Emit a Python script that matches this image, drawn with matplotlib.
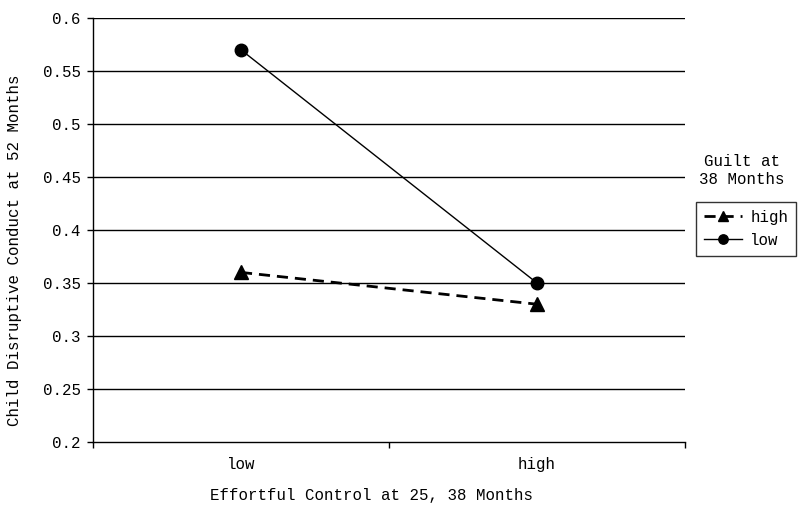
import matplotlib
matplotlib.use('Agg')
from matplotlib import pyplot as plt
from matplotlib.ticker import FixedLocator, NullFormatter

plt.rcParams['font.family'] = ['Liberation Mono', 'DejaVu Sans Mono']

# data
categories = ['low', 'high']
guilt_high = [0.36, 0.33]
guilt_low = [0.57, 0.35]
yticks = [0.2, 0.25, 0.3, 0.35, 0.4, 0.45, 0.5, 0.55, 0.6]
ytick_labels = ['0.2', '0.25', '0.3', '0.35', '0.4', '0.45', '0.5', '0.55', '0.6']

fs = 11.3

fig = plt.figure(figsize=(8, 5.09), dpi=100)
ax = fig.add_axes([0.11625, 0.1316, 0.74, 0.833])

xpos = [i + 0.5 for i in range(len(categories))]

ax.set_ylim(0.2, 0.6)
ax.set_xlim(0, len(categories))
ax.set_yticks(yticks)
ax.set_yticklabels(ytick_labels, fontsize=fs)
for y in yticks[1:]:
    ax.axhline(y, color='black', lw=1, zorder=1)

# x ticks at band edges, labels at centers
ax.xaxis.set_major_locator(FixedLocator([0, 1, 2]))
ax.xaxis.set_major_formatter(NullFormatter())
ax.tick_params(axis='x', length=4, direction='out', width=1)
ax.tick_params(axis='y', length=4, direction='out', width=1, pad=5)
for x, c in zip(xpos, categories):
    ax.text(x, -0.053, c, transform=ax.get_xaxis_transform(), ha='center', va='center', fontsize=fs)

h1, = ax.plot(xpos, guilt_high, color='black', lw=2, ls=(0, (4, 2.5)), marker='^', ms=10, zorder=3)
h2, = ax.plot(xpos, guilt_low, color='black', lw=1, ls='-', marker='o', ms=9, zorder=3)

for s in ['top', 'right']:
    ax.spines[s].set_visible(False)
ax.spines['left'].set_linewidth(1)
ax.spines['bottom'].set_linewidth(1)

ax.set_ylabel('Child Disruptive Conduct at 52 Months', fontsize=fs)
ax.yaxis.set_label_coords(-0.12, 0.453)
ax.set_xlabel('Effortful Control at 25, 38 Months', fontsize=fs)
ax.xaxis.set_label_coords(0.47, -0.108)

fig.text(0.927, 0.665, 'Guilt at\n38 Months', ha='center', va='center', fontsize=fs, linespacing=1.2)
leg = fig.legend([h1, h2], ['high', 'low'], loc='upper left', bbox_to_anchor=(0.87, 0.603),
                 frameon=True, fancybox=False, edgecolor='black', fontsize=fs,
                 handlelength=2.4, handletextpad=0.55, borderpad=0.5, labelspacing=0.5,
                 markerscale=0.75, borderaxespad=0)
leg.get_frame().set_linewidth(1)

plt.savefig('out.png', dpi=100)
